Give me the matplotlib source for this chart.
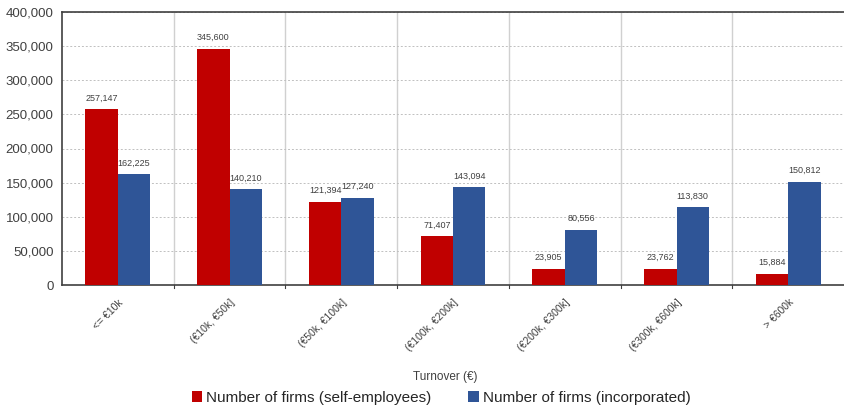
import matplotlib
matplotlib.use("Agg")
import matplotlib.pyplot as plt
import numpy as np

categories = ["<= €10k", "(€10k, €50k]", "(€50k, €100k]", "(€100k, €200k]",
              "(€200k, €300k]", "(€300k, €600k]", "> €600k"]
self_employed = [257147, 345600, 121394, 71407, 23905, 23762, 15884]
incorporated = [162225, 140210, 127240, 143094, 80556, 113830, 150812]
series_names = ["Number of firms (self-employees)", "Number of firms (incorporated)"]
yticks = [0, 50000, 100000, 150000, 200000, 250000, 300000, 350000, 400000]

plt.rcParams['font.family'] = ['Liberation Sans', 'DejaVu Sans']

fig = plt.figure(figsize=(8.45, 4.08), dpi=100)
fig.patch.set_facecolor('white')
ax = fig.add_axes([62/845, 1-285/408, 1-62/845-0.001, (285-12)/408])

x = np.arange(len(categories))
w = 0.29
red = '#C00000'
blue = '#2F5597'
b1 = ax.bar(x - w/2, self_employed, w, color=red, label=series_names[0], zorder=3)
b2 = ax.bar(x + w/2, incorporated, w, color=blue, label=series_names[1], zorder=3)

for bars in (b1, b2):
    for r in bars:
        h = r.get_height()
        ax.annotate(f"{int(h):,}", (r.get_x() + r.get_width()/2, h),
                    xytext=(0, 5), textcoords='offset points',
                    ha='center', va='bottom', fontsize=6.5, color='#404040')

ax.set_xlim(-0.5, len(categories) - 0.5)
ax.set_ylim(0, 400000)
ax.set_yticks(yticks)
ax.set_yticklabels([f"{v:,}" for v in yticks], fontsize=9.5, color='#404040')
ax.yaxis.grid(True, linestyle=(0, (2, 2)), color='#c0c0c0', linewidth=0.7, zorder=0)
ax.set_xticks(x)
ax.set_xticklabels(categories, rotation=45, ha='right', rotation_mode='anchor',
                   fontsize=7.5, color='#404040')
ax.tick_params(axis='x', length=0, pad=9)
ax.tick_params(axis='y', length=0, pad=6)
for b in np.arange(0.5, len(categories) - 0.5, 1):
    ax.axvline(b, color='#d0d0d0', linewidth=1.0, zorder=1)
    ax.plot([b, b], [0, -0.012], transform=ax.get_xaxis_transform(),
            color='#404040', linewidth=0.8, clip_on=False)

for s in ['left', 'top', 'bottom']:
    ax.spines[s].set_color('#404040')
    ax.spines[s].set_linewidth(1.2)
ax.spines['right'].set_visible(False)

fig.text(445/845, 1 - 377/408, "Turnover (€)", ha='center', va='center',
         fontsize=8.5, color='#404040')

leg = fig.legend(handles=[b1, b2], loc='center', bbox_to_anchor=(441/845, 1 - 398/408),
                 ncol=2, frameon=False, fontsize=11, handlelength=0.7, handleheight=0.7,
                 handletextpad=0.25, columnspacing=2.4)
for t in leg.get_texts():
    t.set_color('#262626')

fig.savefig("out.png", dpi=100, facecolor='white')
